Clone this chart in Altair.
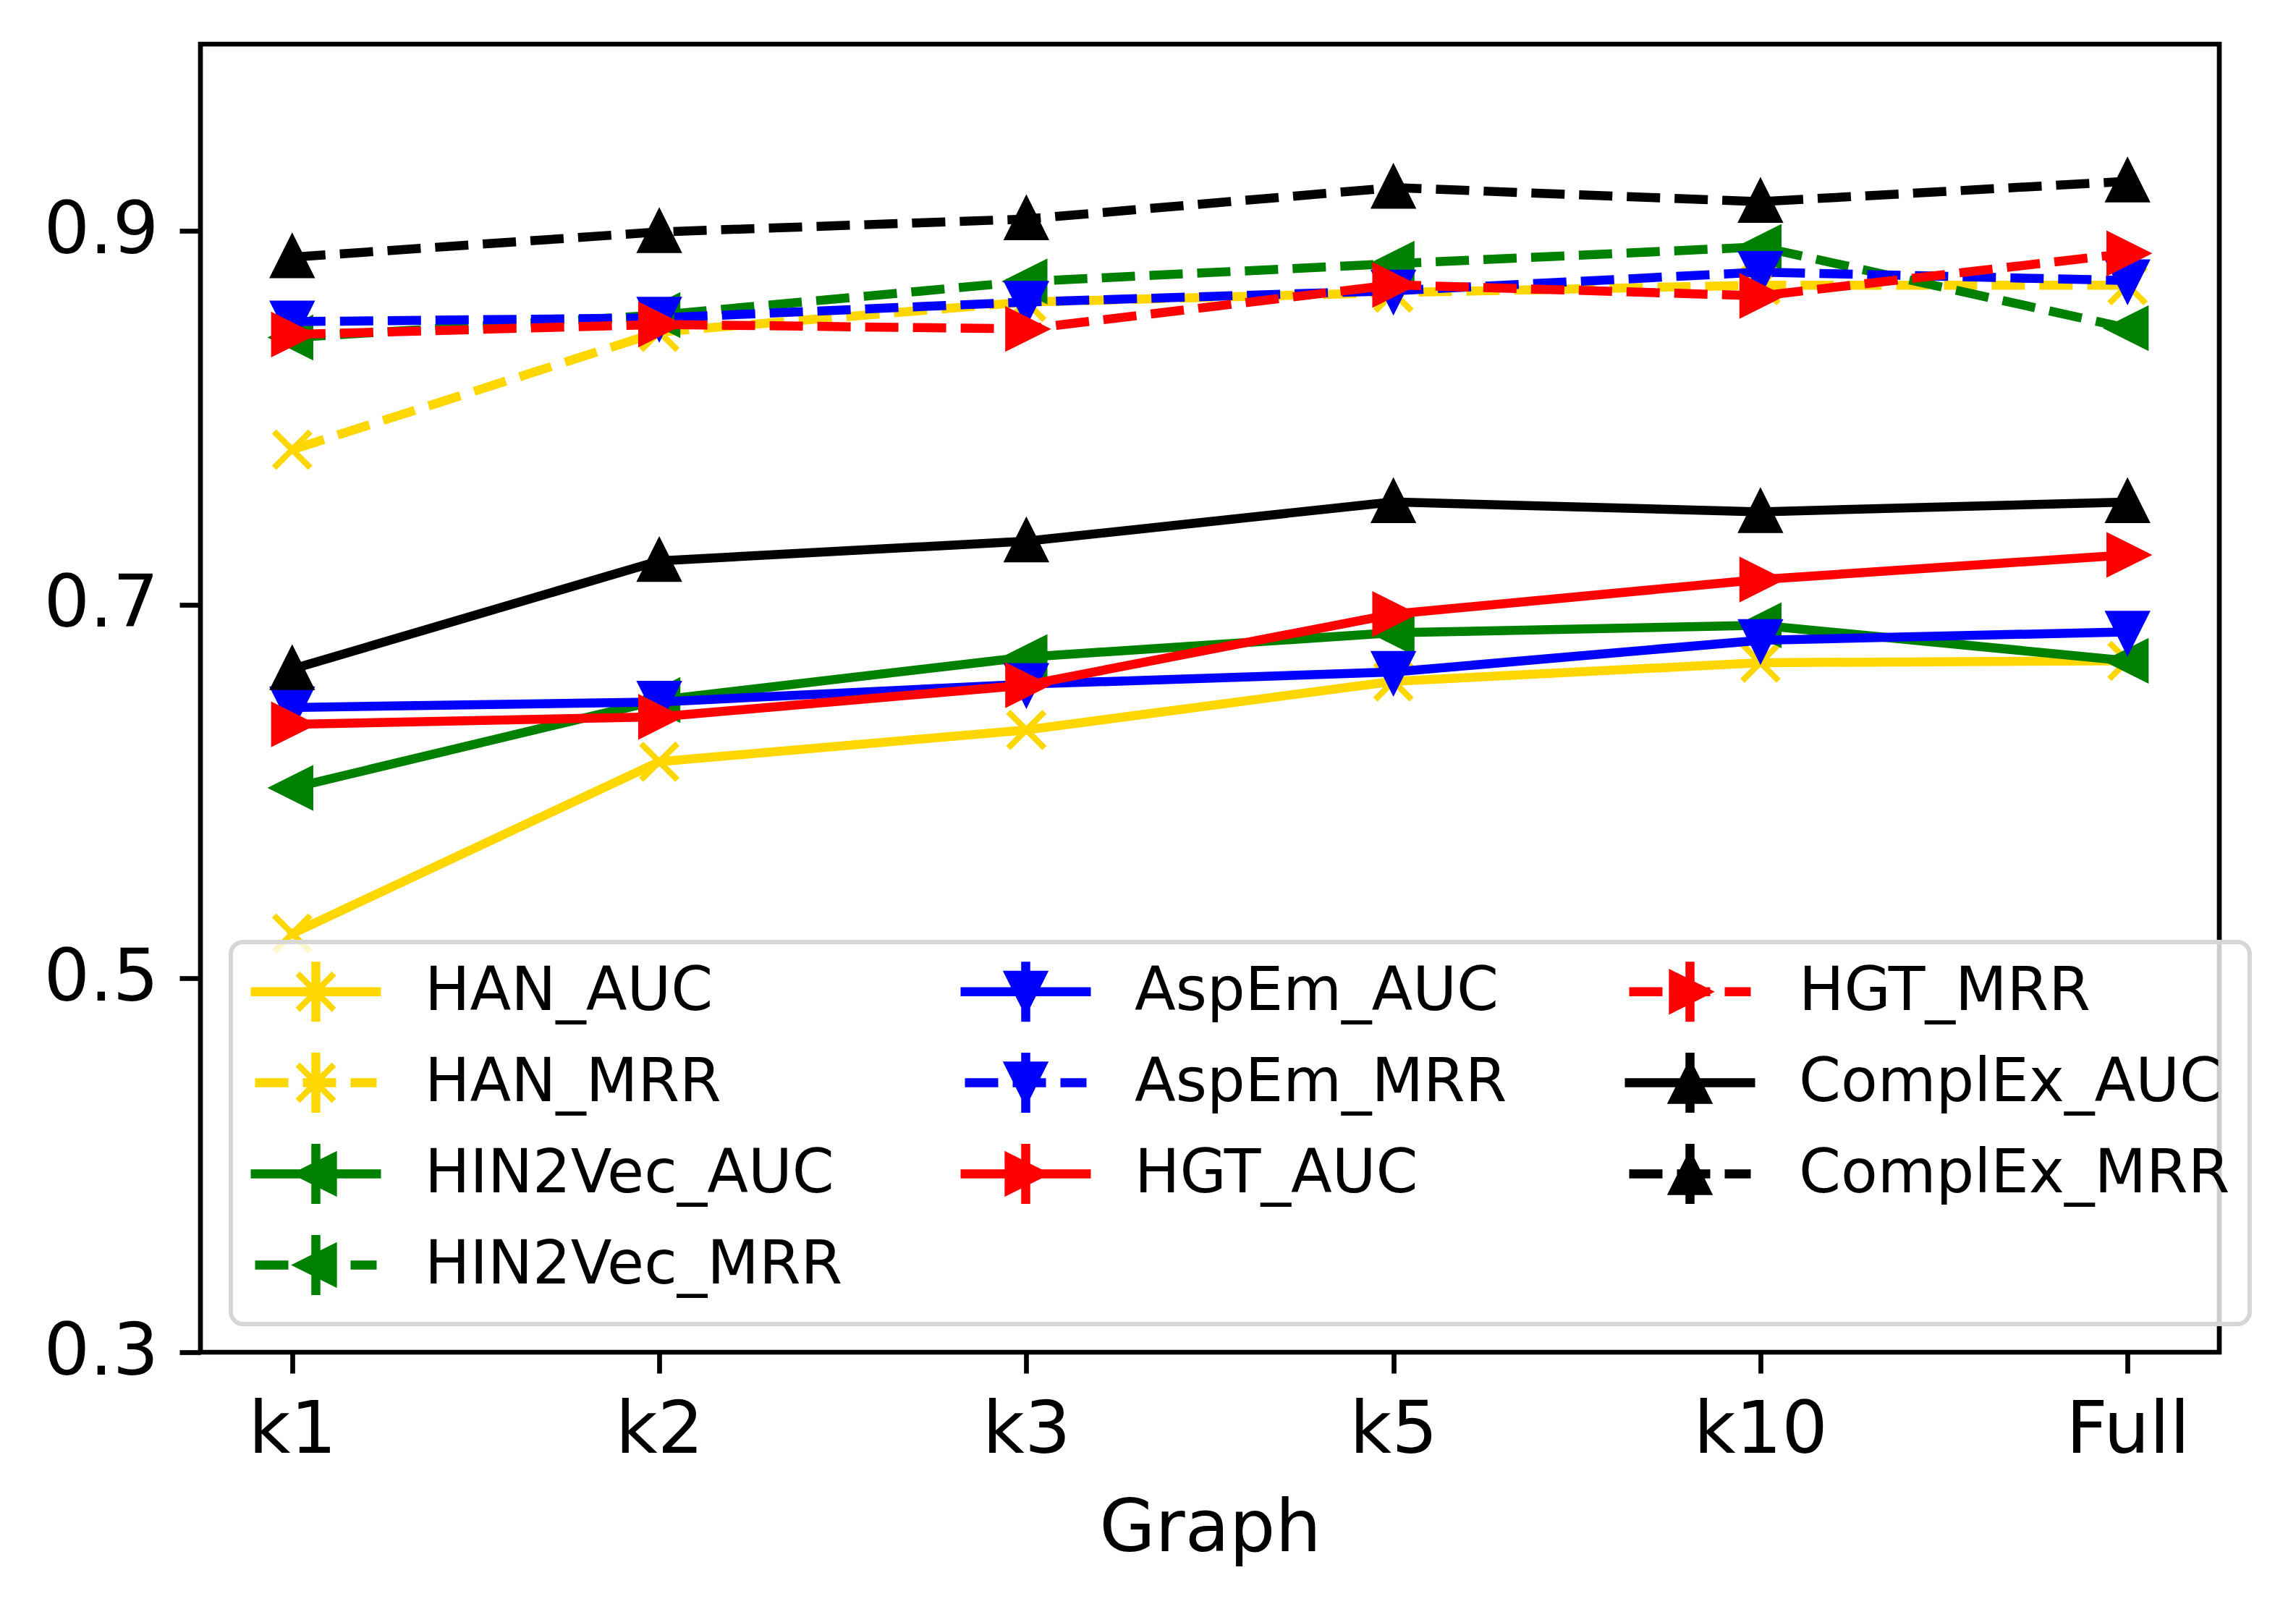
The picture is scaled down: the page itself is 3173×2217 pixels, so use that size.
import altair as alt
import pandas as pd

# ---------------- data ----------------
graphs = ["k1", "k2", "k3", "k5", "k10", "Full"]

han_auc = [0.524, 0.616, 0.633, 0.659, 0.669, 0.670]
han_mrr = [0.783, 0.846, 0.862, 0.867, 0.871, 0.871]
hin2vec_auc = [0.602, 0.649, 0.672, 0.685, 0.689, 0.670]
hin2vec_mrr = [0.843, 0.855, 0.873, 0.8825, 0.8915, 0.848]
aspem_auc = [0.645, 0.648, 0.6575, 0.664, 0.681, 0.6855]
aspem_mrr = [0.8515, 0.8535, 0.862, 0.868, 0.878, 0.8735]
hgt_auc = [0.636, 0.640, 0.657, 0.695, 0.7135, 0.7267]
hgt_mrr = [0.8446, 0.850, 0.8476, 0.8712, 0.8653, 0.888]
complex_auc = [0.6656, 0.7235, 0.734, 0.755, 0.7497, 0.755]
complex_mrr = [0.886, 0.8995, 0.9064, 0.9232, 0.9157, 0.9266]

series_names = ["HAN_AUC", "HAN_MRR", "HIN2Vec_AUC", "HIN2Vec_MRR",
                "AspEm_AUC", "AspEm_MRR", "HGT_AUC", "HGT_MRR",
                "ComplEx_AUC", "ComplEx_MRR"]
series_values = [han_auc, han_mrr, hin2vec_auc, hin2vec_mrr,
                 aspem_auc, aspem_mrr, hgt_auc, hgt_mrr,
                 complex_auc, complex_mrr]

y_ticks = [0.3, 0.5, 0.7, 0.9]

# ---------------- styles ----------------
model_color = {"HAN": "#FFD700", "HIN2Vec": "#008000", "AspEm": "#0000FF",
               "HGT": "#FF0000", "ComplEx": "#000000"}
# marker paths in unit box (scaled by sqrt(size)/2)
model_marker = {
    "HAN": "M-1,-1L1,1M-1,1L1,-1",
    "AspEm": "M0,1L-1,-1L1,-1Z",
    "HIN2Vec": "M-1,0L1,-1L1,1Z",
    "HGT": "M1,0L-1,-1L-1,1Z",
    "ComplEx": "M0,-1L-1,1L1,1Z",
}

LW = 12.5          # line width px
MEW = 8.3          # marker edge width px
MSIZE = 2500       # marker area (50 px box)
DASH = [46, 20]

rows = []
for name, vals in zip(series_names, series_values):
    model, metric = name.split("_")
    for g, v in zip(graphs, vals):
        rows.append({"graph": g, "series": name, "model": model,
                     "metric": metric, "value": v})
df = pd.DataFrame(rows)

x_enc = alt.X("graph:N", sort=graphs,
              scale=alt.Scale(type="point", padding=0.25),
              axis=alt.Axis(title="Graph", labelAngle=0, labelPadding=30,
                            titlePadding=37, labelLimit=2000))
y_enc = alt.Y("value:Q",
              scale=alt.Scale(domain=[0.3, 1.0], nice=False, zero=False),
              axis=alt.Axis(values=y_ticks, format=".1f", title=None,
                            labelPadding=29, labelLimit=2000))

base = alt.Chart(df)
layers = []
for name in series_names:
    model, metric = name.split("_")
    c = model_color[model]
    line_kw = dict(color=c, strokeWidth=LW, strokeJoin="round")
    if metric == "MRR":
        line_kw["strokeDash"] = DASH
    else:
        line_kw["strokeCap"] = "square"
    ln = base.transform_filter(alt.datum.series == name).mark_line(**line_kw).encode(
        x=x_enc, y=y_enc)
    if model == "HAN":
        pt = base.transform_filter(alt.datum.series == name).mark_point(
            shape=model_marker[model], filled=False, stroke=c,
            strokeWidth=MEW, size=MSIZE, opacity=1).encode(x=x_enc, y=y_enc)
    else:
        pt = base.transform_filter(alt.datum.series == name).mark_point(
            shape=model_marker[model], filled=True, fill=c, stroke=c,
            strokeWidth=MEW, size=MSIZE, opacity=1, strokeJoin="miter").encode(
            x=x_enc, y=y_enc)
    layers += [ln, pt]

# ---------------- legend (matplotlib-like handles) ----------------
U = 25.0  # px per path unit for MSIZE
H = MEW / 2


def rect(x0, x1, y0, y1):
    return (f"M{x0/U:.4f},{y0/U:.4f}H{x1/U:.4f}V{y1/U:.4f}"
            f"H{x0/U:.4f}Z")


half_t = LW / 2 - H
solid_handle = rect(-90 + H, 90 - H, -half_t, half_t)
dashed_handle = "".join(rect(a + H, b - H, -half_t, half_t)
                        for a, b in [(-84, -38), (-18, 28), (48, 84)])
errbar = rect(-half_t, half_t, -41.5 + H, 41.5 - H)

# domain order chosen so that Vega's 3-column grid shows the entries
# column by column (4, 3, 3) exactly like the reference legend
legend_order = ["HAN_AUC", "HAN_MRR", "HIN2Vec_AUC", "ComplEx_MRR",
                "AspEm_AUC", "AspEm_MRR", "HGT_AUC", "HIN2Vec_MRR",
                "HGT_MRR", "ComplEx_AUC"]
legend_colors = []
legend_paths = []
for name in legend_order:
    model, metric = name.split("_")
    legend_colors.append(model_color[model])
    handle = solid_handle if metric == "AUC" else dashed_handle
    legend_paths.append(handle + errbar + model_marker[model])

leg = alt.Legend(orient="none", legendX=42, legendY=1241, columns=3,
                 title=None, labelFont="DejaVu Sans", labelFontSize=83,
                 labelColor="black", labelLimit=2000,
                 symbolSize=MSIZE, symbolStrokeWidth=MEW, symbolOffset=49,
                 labelOffset=109, rowPadding=17, columnPadding=150,
                 padding=27, fillColor="rgba(255,255,255,0.8)",
                 strokeColor="#d6d6d6", cornerRadius=17)

legend_layer = base.transform_filter("false").mark_point(
    filled=True, size=MSIZE, strokeWidth=MEW, opacity=1).encode(
    x=x_enc, y=y_enc,
    fill=alt.Fill("series:N", scale=alt.Scale(domain=legend_order, range=legend_colors), legend=leg),
    stroke=alt.Stroke("series:N", scale=alt.Scale(domain=legend_order, range=legend_colors), legend=leg),
    shape=alt.Shape("series:N", scale=alt.Scale(domain=legend_order, range=legend_paths), legend=leg),
)

chart = alt.layer(*layers, legend_layer).properties(
    width=2790, height=1808,
    autosize=alt.AutoSizeParams(type="none"),
    padding={"left": 269, "top": 53, "right": 98, "bottom": 340},
    background="white",
).configure_view(
    stroke="black", strokeWidth=6.7
).configure_axis(
    domain=False, grid=False, ticks=True, tickColor="black", tickWidth=6.7,
    tickSize=29, labelFont="DejaVu Sans", labelFontSize=100, labelColor="black",
    titleFont="DejaVu Sans", titleFontSize=100, titleFontWeight="normal",
    titleColor="black"
).configure_legend(
    strokeWidth=6
)

chart.save("out.html", embed_options={"renderer": "svg", "actions": False})
